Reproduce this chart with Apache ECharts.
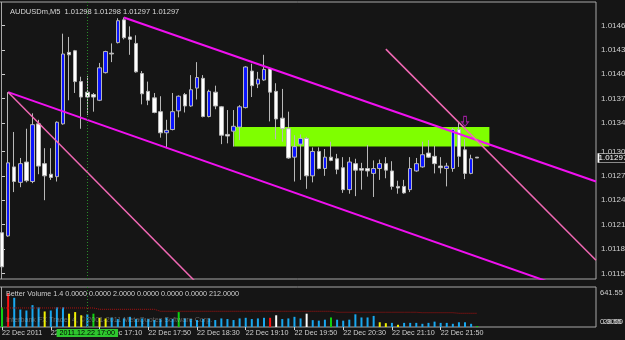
<!DOCTYPE html>
<html>
<head>
<meta charset="utf-8">
<script src="https://cdn.jsdelivr.net/npm/echarts@6/dist/echarts.min.js"></script>
<style>
  html, body { margin: 0; padding: 0; background: #151515; }
  #main { width: 625px; height: 340px; }
</style>
</head>
<body>
<div id="main"></div>
<script>
// AUDUSDm M5, 22 Dec 2011, one bar every 5 minutes from 15:50
var barTimes = ['15:50','15:55','16:00','16:05','16:10','16:15','16:20','16:25','16:30','16:35',
  '16:40','16:45','16:50','16:55','17:00','17:05','17:10','17:15','17:20','17:25',
  '17:30','17:35','17:40','17:45','17:50','17:55','18:00','18:05','18:10','18:15',
  '18:20','18:25','18:30','18:35','18:40','18:45','18:50','18:55','19:00','19:05',
  '19:10','19:15','19:20','19:25','19:30','19:35','19:40','19:45','19:50','19:55',
  '20:00','20:05','20:10','20:15','20:20','20:25','20:30','20:35','20:40','20:45',
  '20:50','20:55','21:00','21:05','21:10','21:15','21:20','21:25','21:30','21:35',
  '21:40','21:45','21:50','21:55','22:00','22:05','22:10','22:15','22:20'];

var opens = [1.01205,1.01201,1.01286,1.01267,1.01292,1.01268,1.01339,1.01290,1.01277,1.01274,
  1.01339,1.01427,1.01429,1.01391,1.01378,1.01375,1.01368,1.01402,1.01426,1.01439,
  1.01467,1.01446,1.01438,1.01401,1.01379,1.01371,1.01354,1.01328,1.01332,1.01355,
  1.01375,1.01361,1.01383,1.01395,1.01348,1.01378,1.01360,1.01326,1.01330,1.01335,
  1.01359,1.01404,1.01388,1.01393,1.01407,1.01379,1.01346,1.01333,1.01298,1.01314,
  1.01321,1.01275,1.01305,1.01284,1.01298,1.01296,1.01285,1.01258,1.01290,1.01284,
  1.01284,1.01278,1.01284,1.01290,1.01281,1.01262,1.01262,1.01258,1.01281,1.01286,
  1.01303,1.01299,1.01287,1.01284,1.01284,1.01332,1.01307,1.01278,1.01298];
var highs = [1.01211,1.01378,1.01329,1.01297,1.01333,1.01352,1.01344,1.01309,1.01309,1.01342,
  1.01450,1.01446,1.01430,1.01397,1.01398,1.01377,1.01414,1.01429,1.01438,1.01469,
  1.01470,1.01459,1.01448,1.01404,1.01391,1.01377,1.01373,1.01344,1.01377,1.01374,
  1.01377,1.01399,1.01415,1.01399,1.01381,1.01386,1.01361,1.01356,1.01356,1.01362,
  1.01410,1.01413,1.01403,1.01424,1.01409,1.01389,1.01382,1.01354,1.01325,1.01326,
  1.01323,1.01310,1.01310,1.01308,1.01317,1.01302,1.01298,1.01298,1.01296,1.01291,
  1.01313,1.01294,1.01295,1.01298,1.01293,1.01269,1.01270,1.01298,1.01297,1.01317,
  1.01319,1.01312,1.01298,1.01291,1.01334,1.01341,1.01320,1.01301,1.01298];
var lows = [1.01159,1.01200,1.01255,1.01261,1.01267,1.01266,1.01277,1.01245,1.01270,1.01268,
  1.01338,1.01368,1.01377,1.01333,1.01350,1.01354,1.01367,1.01401,1.01415,1.01438,
  1.01443,1.01424,1.01402,1.01363,1.01362,1.01352,1.01322,1.01309,1.01331,1.01347,
  1.01353,1.01360,1.01369,1.01347,1.01347,1.01357,1.01314,1.01315,1.01311,1.01319,
  1.01358,1.01372,1.01383,1.01392,1.01342,1.01320,1.01317,1.01296,1.01268,1.01270,
  1.01259,1.01267,1.01283,1.01275,1.01293,1.01277,1.01254,1.01253,1.01250,1.01258,
  1.01274,1.01249,1.01270,1.01272,1.01258,1.01253,1.01253,1.01255,1.01280,1.01285,
  1.01297,1.01278,1.01278,1.01262,1.01280,1.01286,1.01271,1.01277,1.01297];
var closes = [1.01163,1.01291,1.01268,1.01290,1.01269,1.01338,1.01287,1.01275,1.01273,1.01341,
  1.01425,1.01424,1.01391,1.01372,1.01372,1.01372,1.01408,1.01428,1.01425,1.01466,
  1.01445,1.01443,1.01403,1.01376,1.01368,1.01353,1.01328,1.01331,1.01354,1.01373,
  1.01361,1.01381,1.01396,1.01348,1.01379,1.01361,1.01325,1.01324,1.01336,1.01360,
  1.01409,1.01386,1.01394,1.01406,1.01378,1.01345,1.01333,1.01297,1.01311,1.01321,
  1.01275,1.01305,1.01284,1.01298,1.01294,1.01283,1.01258,1.01292,1.01282,1.01282,
  1.01281,1.01284,1.01290,1.01282,1.01262,1.01260,1.01254,1.01284,1.01290,1.01301,
  1.01298,1.01290,1.01285,1.01287,1.01332,1.01299,1.01278,1.01296,1.01297];

// Better Volume pane
var volumes = [344,594,511,305,289,383,344,272,289,344,
  344,233,261,205,222,233,161,150,161,139,
  150,178,139,150,139,122,139,161,139,261,
  150,139,122,139,150,122,150,139,122,150,
  161,139,150,161,161,205,139,150,178,150,
  233,120,111,128,167,128,111,128,222,167,
  167,194,83,67,72,39,72,72,72,56,
  72,94,72,72,56,83,83,56,17];
// B normal, Y low volume, G churn, R climax up, W climax down
var volTypes = ['G','R','B','B','B','B','B','Y','B','B',
  'B','Y','Y','Y','B','G','Y','Y','B','B',
  'B','B','B','B','B','B','B','B','B','G',
  'B','B','B','B','B','B','B','B','B','B',
  'B','B','B','B','R','W','B','B','B','B',
  'W','B','B','B','G','B','B','B','B','B',
  'B','B','Y','Y','B','Y','B','B','B','B',
  'B','B','B','B','B','B','B','B','G'];
var volAverage = [333,333,333,333,333,333,333,333,333,333,
  333,333,333,333,333,333,310,310,310,310,
  310,310,310,310,310,310,275,275,275,275,
  275,275,275,275,275,275,275,275,275,275,
  275,275,275,275,275,275,275,275,275,275,
  275,275,275,275,275,258,258,258,258,258,
  258,258,258,258,258,258,258,258,258,250,
  250,250,250,250,250,240,240,240,240];

var priceTicks = [1.01460,1.01430,1.01400,1.01370,1.01340,1.01305,1.01275,1.01245,1.01215,1.01185,1.01155];
var timeTickBars = [0,8,16,24,32,40,48,56,64,72];
var timeTickLabels = ['22 Dec 2011','22 Dec 16:30','22 Dec 17:10','22 Dec 17:50','22 Dec 18:30',
  '22 Dec 19:10','22 Dec 19:50','22 Dec 20:30','22 Dec 21:10','22 Dec 21:50'];
var volScaleTop = '641.55';
var volScaleBottom = ['0.0000', '28.55'];

// drawn objects, as [bar index, price]
var upperChannel = [[20, 1.01470], [97.5, 1.01268]];
var lowerChannel = [[1, 1.01378], [97.5, 1.01124]];
var steepLine1 = [[1, 1.01378], [35, 1.01120]];
var steepLine2 = [[63, 1.01431], [97.5, 1.01171]];
var zoneRect = [[38.1, 1.01335], [80, 1.01311]];
var sellArrow = [[76, 1.01342]];
var redLevel = 1.01384;
var greenLevel = 1.01281;
var cursorBar = 14;
var lastPrice = 1.01297;

var totalSlots = 98;
var categories = barTimes.slice();
while (categories.length < totalSlots) categories.push('');

var candleData = opens.map(function (o, i) { return [o, closes[i], lows[i], highs[i]]; });
var volColors = { B: '#18a8f0', Y: '#f0f000', G: '#10d010', R: '#ff1010', W: '#ffffff' };
var volData = volumes.map(function (v, i) {
  return { value: v, itemStyle: { color: volColors[volTypes[i]] } };
});

var FONT = 'Tahoma, "Liberation Sans", Arial, sans-serif';
var TXT = '#cfcfcf';

var chartDom = document.getElementById('main');
var myChart = echarts.init(chartDom);
var option;

option = {
  backgroundColor: '#151515',
  animation: false,
  textStyle: { fontFamily: FONT },
  title: {
    text: 'AUDUSDm,M5  1.01298 1.01298 1.01297 1.01297',
    left: 5, top: 3,
    textStyle: { color: '#d8d8d8', fontSize: 7.5, fontWeight: 'normal', fontFamily: FONT }
  },
  grid: [
    { left: -1, right: 29, top: 2, height: 277, show: true, borderColor: '#a8a8a8', borderWidth: 1,
      containLabel: false, outerBoundsMode: 'none' },
    { left: -1, right: 29, top: 287, height: 40, show: true, borderColor: '#a8a8a8', borderWidth: 1,
      containLabel: false, outerBoundsMode: 'none' }
  ],
  xAxis: [
    { type: 'category', gridIndex: 0, data: categories, boundaryGap: true,
      axisLine: { show: false }, axisTick: { show: false }, axisLabel: { show: false }, splitLine: { show: false } },
    { type: 'value', gridIndex: 0, min: -0.5, max: totalSlots - 0.5, show: false },
    { type: 'category', gridIndex: 1, data: categories, boundaryGap: true,
      axisLine: { show: false },
      axisTick: { show: true, alignWithLabel: true, length: 3,
        interval: function (i) { return timeTickBars.indexOf(i) >= 0; },
        lineStyle: { color: TXT } },
      axisLabel: { show: true, color: TXT, fontSize: 7.2, fontFamily: FONT, align: 'left', margin: 3,
        interval: function (i) { return timeTickBars.indexOf(i) >= 0; },
        formatter: function (v, i) { var k = timeTickBars.indexOf(i); return k >= 0 ? timeTickLabels[k] : ''; } },
      splitLine: { show: false } }
  ],
  yAxis: [
    { type: 'value', gridIndex: 0, position: 'right', min: 1.01148, max: 1.01489, scale: true,
      splitLine: { show: false }, axisLine: { show: false },
      axisTick: { show: true, length: 3, customValues: priceTicks, lineStyle: { color: TXT } },
      axisLabel: { show: true, customValues: priceTicks, color: TXT, fontSize: 8, fontFamily: FONT, margin: 5,
        formatter: function (v) { return v.toFixed(5); } } },
    { type: 'value', gridIndex: 1, min: 0, max: 700, show: false },
    { type: 'value', gridIndex: 1, position: 'right', min: 0, max: 1,
      splitLine: { show: false }, axisLine: { show: false }, axisTick: { show: false },
      axisLabel: { show: true, customValues: [0.125, 0.85], color: TXT, fontSize: 7.5, fontFamily: FONT, margin: 4,
        hideOverlap: false,
        formatter: function (v) { return v > 0.5 ? volScaleTop : volScaleBottom[0]; } } },
    { type: 'value', gridIndex: 1, position: 'right', min: 0, max: 1,
      splitLine: { show: false }, axisLine: { show: false }, axisTick: { show: false },
      axisLabel: { show: true, customValues: [0.125], color: TXT, fontSize: 7.5, fontFamily: FONT, margin: 7,
        formatter: function () { return volScaleBottom[1]; } } }
  ],
  graphic: [
    { type: 'line', shape: { x1: 1.5, y1: 2, x2: 1.5, y2: 279 }, style: { stroke: '#a8a8a8', lineWidth: 1 } },
    { type: 'line', shape: { x1: 1.5, y1: 287, x2: 1.5, y2: 327 }, style: { stroke: '#a8a8a8', lineWidth: 1 } },
    { type: 'text', left: 6, top: 291, z: 10,
      style: { text: 'Better Volume 1.4 0.0000 0.0000 2.0000 0.0000 0.0000 0.0000 212.0000',
        fill: TXT, font: '7.2px ' + FONT } },
    { type: 'text', left: 6, top: 317, z: 10,
      style: { text: 'Interbank FX Trader 4, \u00a9 2001-2011 MetaQuotes Software Corp.',
        fill: 'rgba(190,190,190,0.45)', font: '7.2px ' + FONT } }
  ],
  series: [
    { // support zone rectangle
      type: 'line', xAxisIndex: 1, yAxisIndex: 0, z: 1, data: [zoneRect[0]], showSymbol: false,
      lineStyle: { opacity: 0 },
      markArea: { silent: true, itemStyle: { color: '#7fff00', opacity: 1 },
        data: [[{ coord: zoneRect[0] }, { coord: zoneRect[1] }]] }
    },
    {
      type: 'candlestick', xAxisIndex: 0, yAxisIndex: 0, z: 3, barWidth: 4,
      data: candleData,
      itemStyle: { color: '#0a14ff', color0: '#ffffff', borderColor: '#b8b8b8', borderColor0: '#b8b8b8', borderWidth: 1 },
      markLine: {
        silent: true, symbol: 'none', animation: false,
        data: [
          { yAxis: redLevel, lineStyle: { color: '#a01818', width: 1, type: [6, 3, 1, 3] }, label: { show: false } },
          { yAxis: greenLevel, lineStyle: { color: '#2a8c2a', width: 1, type: [6, 3, 1, 3] }, label: { show: false } },
          { xAxis: cursorBar, lineStyle: { color: '#2a8c2a', width: 1, type: [1, 2] }, label: { show: false } }
        ]
      },
      markPoint: { // last price tag on the price scale
        silent: true, animation: false,
        data: [{ coord: [totalSlots - 1, lastPrice], value: lastPrice }],
        symbol: 'rect', symbolSize: [29, 9], symbolOffset: [20, 0],
        itemStyle: { color: '#151515', borderColor: '#ffffff', borderWidth: 1 },
        label: { show: true, position: 'inside', formatter: '1.01297', color: '#ffffff', fontSize: 8, fontFamily: FONT }
      }
    },
    { type: 'line', xAxisIndex: 1, yAxisIndex: 0, z: 4, data: upperChannel, showSymbol: false,
      lineStyle: { color: '#f010f0', width: 2 } },
    { type: 'line', xAxisIndex: 1, yAxisIndex: 0, z: 4, data: lowerChannel, showSymbol: false,
      lineStyle: { color: '#f010f0', width: 2 } },
    { type: 'line', xAxisIndex: 1, yAxisIndex: 0, z: 4, data: steepLine1, showSymbol: false,
      lineStyle: { color: '#f068b4', width: 1.5 } },
    { type: 'line', xAxisIndex: 1, yAxisIndex: 0, z: 4, data: steepLine2, showSymbol: false,
      lineStyle: { color: '#f068b4', width: 1.5 } },
    { type: 'scatter', xAxisIndex: 1, yAxisIndex: 0, z: 5, data: sellArrow,
      symbol: 'path://M3,0 L7,0 L7,7 L10,7 L5,13 L0,7 L3,7 Z', symbolSize: [7, 10],
      itemStyle: { color: '#151515', borderColor: '#c020c0', borderWidth: 1 } },
    { type: 'bar', xAxisIndex: 2, yAxisIndex: 1, barWidth: 2, data: volData,
      markLine: {
        silent: true, symbol: 'none', animation: false,
        data: [
          { xAxis: cursorBar, lineStyle: { color: '#2a8c2a', width: 1, type: [1, 2] },
            label: { show: true, position: 'start', distance: 2, formatter: '2011.12.22 17:00', color: '#000000',
              fontSize: 7.2, fontFamily: FONT, backgroundColor: '#2ec82e', padding: [1, 3, 0, 3] } }
        ]
      }
    },
    { type: 'line', xAxisIndex: 2, yAxisIndex: 1, data: volAverage, showSymbol: false,
      lineStyle: { color: '#b01010', width: 1, type: [1, 1] } }
  ]
};

option && myChart.setOption(option);
</script>
</body>
</html>
